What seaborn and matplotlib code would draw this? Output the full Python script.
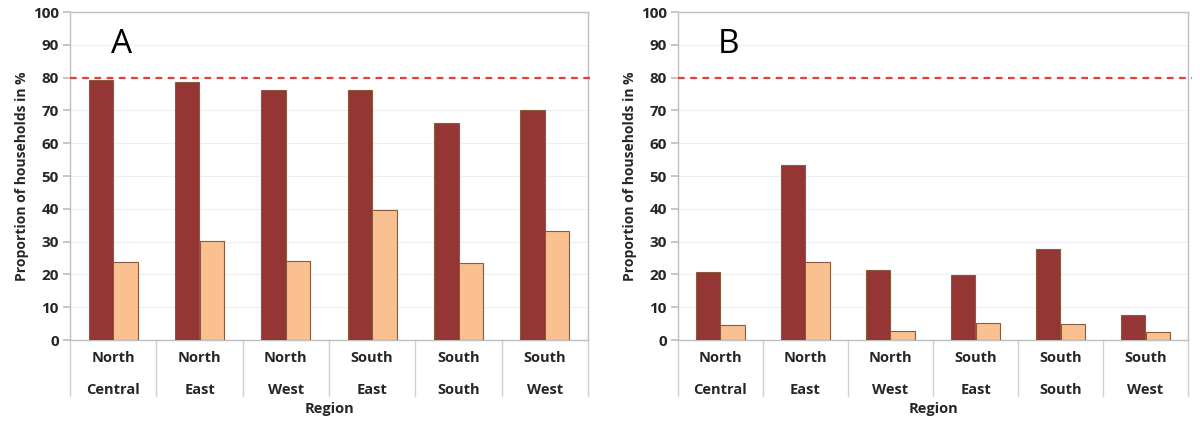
import matplotlib
matplotlib.use("Agg")
import matplotlib.pyplot as plt
import seaborn as sns
import pandas as pd

regions = ["North\nCentral", "North\nEast", "North\nWest", "South\nEast", "South\nSouth", "South\nWest"]
series_names = ["Series 1", "Series 2"]
a_dark = [79.2, 78.8, 76.1, 76.3, 66.1, 70.1]
a_light = [23.8, 30.3, 24.1, 39.6, 23.5, 33.3]
b_dark = [20.6, 53.3, 21.4, 19.8, 27.7, 7.7]
b_light = [4.6, 23.8, 2.7, 5.1, 4.8, 2.4]
threshold = 80
panel_labels = ["A", "B"]
yticks = list(range(0, 101, 10))

sns.set_theme(style="white")
plt.rcParams['font.family'] = ['Open Sans', 'DejaVu Sans']

dark_c = "#943634"
light_c = "#FAC090"
edge_c = "#8B5A3C"

fig = plt.figure(figsize=(12, 4.26), dpi=100)
axA = fig.add_axes([70/1200, 86/426, 518/1200, 328/426])
axB = fig.add_axes([678/1200, 86/426, 510/1200, 328/426])

def make_df(d, l):
    return pd.DataFrame({
        "Region": regions * 2,
        "Series": [series_names[0]] * 6 + [series_names[1]] * 6,
        "Value": d + l,
    })

for ax, d, l, lab in [(axA, a_dark, a_light, panel_labels[0]), (axB, b_dark, b_light, panel_labels[1])]:
    df = make_df(d, l)
    sns.barplot(data=df, x="Region", y="Value", hue="Series",
                palette=[dark_c, light_c], saturation=1, width=0.57, ax=ax,
                edgecolor=edge_c, linewidth=0.8, legend=False, zorder=3)
    ax.set_ylim(0, 100)
    ax.set_xlim(-0.5, 5.5)
    ax.set_yticks(yticks)
    ax.set_yticklabels([str(t) for t in yticks], fontsize=11, fontweight="bold")
    ax.yaxis.grid(True, color="#EEEEEE", linewidth=0.8, zorder=0)
    ax.set_axisbelow(True)
    for s in ax.spines.values():
        s.set_color("#BFBFBF")
        s.set_linewidth(1.0)
    ax.tick_params(axis="y", which="major", left=True, length=5, color="#BFBFBF", pad=3)
    ax.tick_params(axis="x", length=0, pad=8)
    ax.set_xticks(range(6))
    ax.set_xticklabels(regions, fontsize=10.5, fontweight="bold", linespacing=2.6)
    ax.set_ylabel("Proportion of households in %", fontsize=10, fontweight="bold", labelpad=3)
    ax.set_xlabel("Region", fontsize=10.5, fontweight="bold", labelpad=4)
    # category dividers below the axis
    for xb in [i - 0.5 for i in range(7)]:
        ax.plot([xb, xb], [0, -17], color="#D0D0D0", linewidth=1.0, clip_on=False, zorder=1)
    # threshold line
    ax.plot([-0.5, 5.55], [threshold, threshold], color="#E0403A", linestyle=(0, (3, 2.5)),
            linewidth=1.6, clip_on=False, zorder=4)
    ax.text(0.1, 90, lab, fontsize=24, ha="center", va="center", color="black")

fig.savefig("out.png", dpi=100)
